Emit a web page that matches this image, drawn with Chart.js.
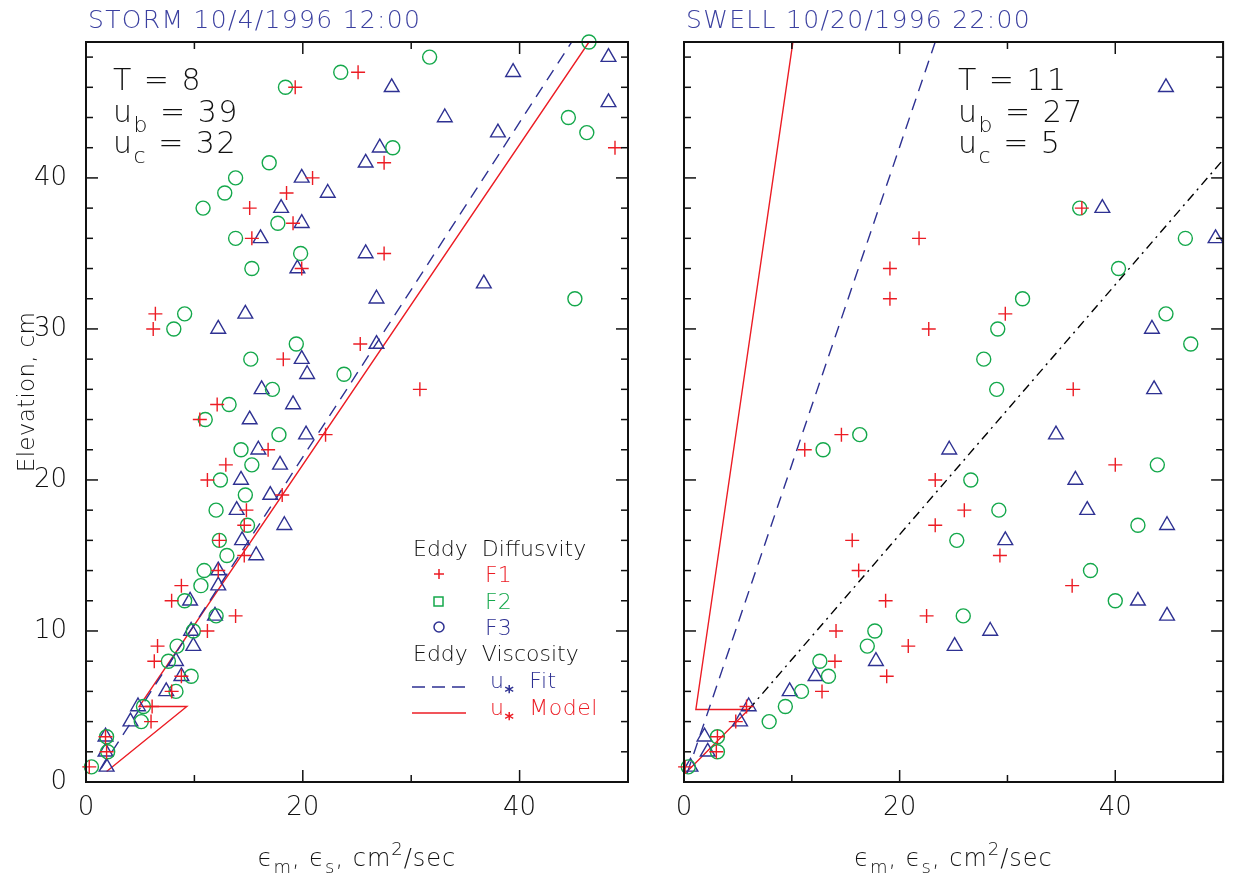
<!DOCTYPE html>
<html><head><meta charset="utf-8">
<script src="https://cdn.jsdelivr.net/npm/chart.js@4/dist/chart.umd.min.js"></script>
<style>
html,body{margin:0;padding:0;background:#fff;}
#p1{position:absolute;left:0;top:0;}
#p2{position:absolute;left:640px;top:0;}
</style></head><body>
<canvas id="p1" width="640" height="884"></canvas>
<canvas id="p2" width="593" height="884"></canvas>
<script>
// ---------- DATA ----------
const X_LABEL_TICKS = [0, 20, 40];
const X_TICK_MARKS = [0, 10, 20, 30, 40, 50];
const Y_LABEL_TICKS = [0, 10, 20, 30, 40];
const Y_TICK_MARKS = [0,2,4,6,8,10,12,14,16,18,20,22,24,26,28,30,32,34,36,38,40,42,44,46,48];

// STORM panel
const L_F1_X = [0.3,1.9,1.8,6.0,6.1,7.9,8.8,6.3,6.6,11.2,13.8,7.9,8.8,12.2,14.6,12.3,14.6,14.8,18.1,11.2,12.9,16.8,22.1,10.5,12.1,30.8,18.2,25.3,6.2,6.4,19.9,27.5,15.3,19.1,15.1,18.5,20.9,27.5,48.8,19.3,25.1];
const L_F1_Y = [1,2,3,4,5,6,7,8,9,10,11,12,13,14,15,16,17,18,19,20,21,22,23,24,25,26,28,29,30,31,34,35,36,37,38,39,40,41,42,46,47];
const L_F2_X = [0.5,2.0,1.9,5.1,5.3,8.3,9.7,7.6,8.4,9.9,12.0,9.1,10.6,10.9,13.0,12.3,14.9,12.0,14.7,12.4,15.3,14.3,17.8,11.0,13.2,17.2,23.8,15.2,19.4,8.1,9.1,45.1,15.3,19.8,13.8,17.7,10.8,12.8,13.8,16.9,28.3,46.2,44.5,18.4,23.5,31.7,46.4];
const L_F2_Y = [1,2,3,4,5,6,7,8,9,10,11,12,13,14,15,16,17,18,19,20,21,22,23,24,25,26,27,28,29,30,31,32,34,35,36,37,38,39,40,41,42,43,44,46,47,48,49];
const L_F3_X = [1.9,1.8,1.8,4.1,4.8,7.4,8.8,8.3,9.9,9.7,11.9,9.6,12.2,12.2,15.7,14.4,18.3,13.9,17.0,14.3,17.9,15.9,20.3,15.1,19.1,16.2,20.4,19.9,26.8,12.2,14.7,26.8,36.7,19.5,25.8,16.1,19.9,18.0,22.3,19.9,25.8,27.1,38.0,33.1,48.2,28.2,39.4,48.2];
const L_F3_Y = [1,2,3,4,5,6,7,8,9,10,11,12,13,14,15,16,17,18,19,20,21,22,23,24,25,26,27,28,29,30,31,32,33,34,35,36,37,38,39,40,41,42,43,44,45,46,47,48];
const L_FIT_X = [1.4, 44.8];
const L_FIT_Y = [0.9, 49];
const L_MODEL_X = [1.9, 9.3, 4.9, 46.4];
const L_MODEL_Y = [0.7, 5, 5, 49];

// SWELL panel
const R_F1_X = [0.1,3.0,3.1,4.8,5.8,12.8,18.8,14.0,20.8,14.1,22.5,18.7,36.0,16.2,29.3,15.6,23.3,26.0,23.3,40.0,11.2,14.6,36.1,22.7,19.1,29.8,19.1,21.8,36.9];
const R_F1_Y = [1,2,3,4,5,6,7,8,9,10,11,12,13,14,15,16,17,18,20,21,22,23,26,30,32,31,34,36,38];
const R_F2_X = [0.4,3.1,3.1,7.9,9.4,10.9,13.4,12.6,17.0,17.7,25.9,40.0,37.7,25.3,42.1,29.2,26.6,43.9,12.9,16.3,29.0,27.8,47.0,29.1,44.7,31.4,40.3,46.5,36.7];
const R_F2_Y = [1,2,3,4,5,6,7,8,9,10,11,12,14,16,17,18,20,21,22,23,26,28,29,30,31,32,34,36,38];
const R_F3_X = [0.6,2.2,1.9,5.2,6.0,9.8,12.2,17.8,25.1,28.4,44.8,42.1,29.8,44.8,37.4,36.3,24.6,34.5,43.6,43.4,49.3,38.8,44.7];
const R_F3_Y = [1,2,3,4,5,6,7,8,9,10,11,12,16,17,18,20,22,23,26,30,36,38,46];
const R_FIT_X = [0.3, 23.3];
const R_FIT_Y = [0.6, 49];
const R_MODEL_X = [0.15, 6.0, 1.1, 10.1];
const R_MODEL_Y = [0.6, 4.8, 4.8, 49];
const R_REF_X = [6.0, 50];
const R_REF_Y = [4.8, 41.2];

// ---------- STYLE ----------
const RED = '#ec1c24', GREEN = '#14a84b', BLUE = '#2e3192', TITLEBLUE = '#3b40a0', INK = '#111111';
const FAM = '"DejaVu Sans", sans-serif';
const WEIGHT = '200';
const F = (s, w) => (w || WEIGHT) + ' ' + s + 'px ' + FAM;
const pts = (xs, ys) => xs.map((x, i) => ({x: x, y: ys[i]}));

function rich(ctx, x, y, segs, align, spacing) {
  ctx.letterSpacing = (spacing || 0) + 'px';
  let w = 0;
  segs.forEach(s => { ctx.font = F(s.size, s.w); w += ctx.measureText(s.t).width; });
  let cx = align === 'center' ? x - w / 2 : x;
  segs.forEach(s => {
    ctx.font = F(s.size, s.w);
    ctx.fillStyle = s.c || INK;
    ctx.fillText(s.t, cx, y + (s.dy || 0));
    cx += ctx.measureText(s.t).width;
  });
  ctx.letterSpacing = '0px';
}

const framePlugin = {
  id: 'frame',
  afterDatasetsDraw(chart) {
    const ctx = chart.ctx, a = chart.chartArea, xs = chart.scales.x, ys = chart.scales.y;
    ctx.save();
    ctx.strokeStyle = INK;
    ctx.lineWidth = 1.5;
    const ln = (x1, y1, x2, y2) => { ctx.beginPath(); ctx.moveTo(x1, y1); ctx.lineTo(x2, y2); ctx.stroke(); };
    X_TICK_MARKS.forEach(v => {
      const p = xs.getPixelForValue(v);
      const L = X_LABEL_TICKS.includes(v) ? 12 : 7;
      ln(p, a.bottom, p, a.bottom - L);
      ln(p, a.top, p, a.top + L);
    });
    Y_TICK_MARKS.forEach(v => {
      const p = ys.getPixelForValue(v);
      const L = Y_LABEL_TICKS.includes(v) ? 12 : 7;
      ln(a.left, p, a.left + L, p);
      ln(a.right, p, a.right - L, p);
    });
    ctx.lineWidth = 2;
    ctx.strokeRect(a.left, a.top, a.right - a.left, a.bottom - a.top);
    ctx.restore();
  },
  afterDraw(chart) {
    const o = chart.options.plugins.deco;
    const ctx = chart.ctx, a = chart.chartArea;
    ctx.save();
    ctx.textBaseline = 'alphabetic';
    // panel title
    rich(ctx, a.left + 2, 28, [{t: o.title, size: 25, c: TITLEBLUE}], 'left', 1.3);
    // annotation
    const ax = o.annX, big = 30, sub = 22;
    rich(ctx, ax, 90, [{t: 'T = ' + o.T, size: big}], 'left', 1.5);
    rich(ctx, ax, 122, [{t: 'u', size: big}, {t: 'b', size: sub, dy: 10}, {t: ' = ' + o.ub, size: big}], 'left', 1.5);
    rich(ctx, ax, 153, [{t: 'u', size: big}, {t: 'c', size: sub, dy: 10}, {t: ' = ' + o.uc, size: big}], 'left', 1.5);
    // x title
    const cx = (a.left + a.right) / 2;
    rich(ctx, cx, 866, [
      {t: 'ϵ', size: 24}, {t: 'm', size: 18, dy: 7}, {t: ', ', size: 24},
      {t: 'ϵ', size: 24}, {t: 's', size: 18, dy: 7}, {t: ', cm', size: 24},
      {t: '2', size: 18, dy: -11}, {t: '/sec', size: 24}
    ], 'center', 1);
    // y title
    if (o.ytitle) {
      ctx.save();
      ctx.translate(28, 392);
      ctx.rotate(-Math.PI / 2);
      ctx.textBaseline = 'middle';
      rich(ctx, 0, 0, [{t: 'Elevation, cm', size: 23}], 'center', 0.3);
      ctx.restore();
    }
    // legend
    if (o.legend) {
      const lx = 413;
      rich(ctx, lx, 556, [{t: 'Eddy  Diffusvity', size: 22}], 'left', 0);
      ctx.lineWidth = 1.5;
      ctx.strokeStyle = RED;
      ctx.beginPath(); ctx.moveTo(434, 574); ctx.lineTo(444, 574); ctx.moveTo(439, 569); ctx.lineTo(439, 579); ctx.stroke();
      rich(ctx, 485, 582, [{t: 'F1', size: 22, c: RED}], 'left', 0);
      ctx.strokeStyle = GREEN;
      ctx.strokeRect(434, 597, 9, 9);
      rich(ctx, 485, 609, [{t: 'F2', size: 22, c: GREEN}], 'left', 0);
      ctx.strokeStyle = BLUE;
      ctx.beginPath(); ctx.arc(439, 627, 5, 0, Math.PI * 2); ctx.stroke();
      rich(ctx, 485, 635, [{t: 'F3', size: 22, c: BLUE}], 'left', 0);
      rich(ctx, lx, 661, [{t: 'Eddy  Viscosity', size: 22}], 'left', 0);
      ctx.strokeStyle = BLUE; ctx.setLineDash([13, 7]);
      ctx.beginPath(); ctx.moveTo(412, 687); ctx.lineTo(466, 687); ctx.stroke();
      ctx.setLineDash([]);
      rich(ctx, 490, 688, [{t: 'u', size: 22, c: BLUE}, {t: '*', size: 18, dy: 10, c: BLUE, w: '700'}, {t: '  Fit', size: 22, c: BLUE}], 'left', 0.5);
      ctx.strokeStyle = RED;
      ctx.beginPath(); ctx.moveTo(412, 713); ctx.lineTo(466, 713); ctx.stroke();
      rich(ctx, 490, 715, [{t: 'u', size: 22, c: RED}, {t: '*', size: 18, dy: 10, c: RED, w: '700'}, {t: '  Model', size: 22, c: RED}], 'left', 0.5);
    }
    ctx.restore();
  }
};

function scatterSet(xs, ys, style, color, r) {
  return {type: 'scatter', data: pts(xs, ys), showLine: false, pointStyle: style, pointRadius: r,
    pointBorderColor: color, pointBackgroundColor: 'rgba(0,0,0,0)', pointBorderWidth: 1.4, clip: false};
}
function lineSet(xs, ys, color, dash) {
  return {type: 'scatter', data: pts(xs, ys), showLine: true, pointRadius: 0, borderColor: color,
    borderWidth: 1.4, borderDash: dash || [], fill: false, tension: 0};
}

function makeChart(id, datasets, deco, yLabels, yWidth, padRight) {
  return new Chart(document.getElementById(id), {
    type: 'scatter',
    data: {datasets: datasets},
    plugins: [framePlugin],
    options: {
      responsive: false, animation: false, devicePixelRatio: 1, events: [],
      layout: {padding: {left: 0, right: padRight, top: 42, bottom: 0}},
      plugins: {legend: {display: false}, tooltip: {enabled: false}, deco: deco},
      scales: {
        x: {type: 'linear', min: 0, max: 50, position: 'bottom',
          afterFit: s => { s.height = 102; },
          afterBuildTicks: s => { s.ticks = X_LABEL_TICKS.map(v => ({value: v})); },
          grid: {display: false, drawTicks: false}, border: {display: false},
          ticks: {padding: 11, maxRotation: 0, autoSkip: false, color: INK, font: {family: FAM, size: 26, weight: WEIGHT}}
        },
        y: {type: 'linear', min: 0, max: 49,
          afterFit: s => { s.width = yWidth; },
          afterBuildTicks: s => { s.ticks = Y_LABEL_TICKS.map(v => ({value: v})); },
          grid: {display: false, drawTicks: false}, border: {display: false},
          ticks: {display: yLabels, padding: 19, autoSkip: false, color: INK, font: {family: FAM, size: 26, weight: WEIGHT}}
        }
      }
    }
  });
}

makeChart('p1', [
  scatterSet(L_F1_X, L_F1_Y, 'cross', RED, 7),
  scatterSet(L_F2_X, L_F2_Y, 'circle', GREEN, 7),
  scatterSet(L_F3_X, L_F3_Y, 'triangle', BLUE, 8.5),
  lineSet(L_FIT_X, L_FIT_Y, BLUE, [12, 8]),
  lineSet(L_MODEL_X, L_MODEL_Y, RED)
], {title: 'STORM 10/4/1996 12:00', annX: 113, T: '8', ub: '39', uc: '32', legend: true, ytitle: true}, true, 86, 12);

makeChart('p2', [
  scatterSet(R_F1_X, R_F1_Y, 'cross', RED, 7),
  scatterSet(R_F2_X, R_F2_Y, 'circle', GREEN, 7),
  scatterSet(R_F3_X, R_F3_Y, 'triangle', BLUE, 8.5),
  lineSet(R_FIT_X, R_FIT_Y, BLUE, [12, 8]),
  lineSet(R_MODEL_X, R_MODEL_Y, RED),
  lineSet(R_REF_X, R_REF_Y, '#000', [9, 5, 2, 5])
], {title: 'SWELL 10/20/1996 22:00', annX: 318, T: '11', ub: '27', uc: '5', legend: false, ytitle: false}, false, 44, 6);
</script>
</body></html>
